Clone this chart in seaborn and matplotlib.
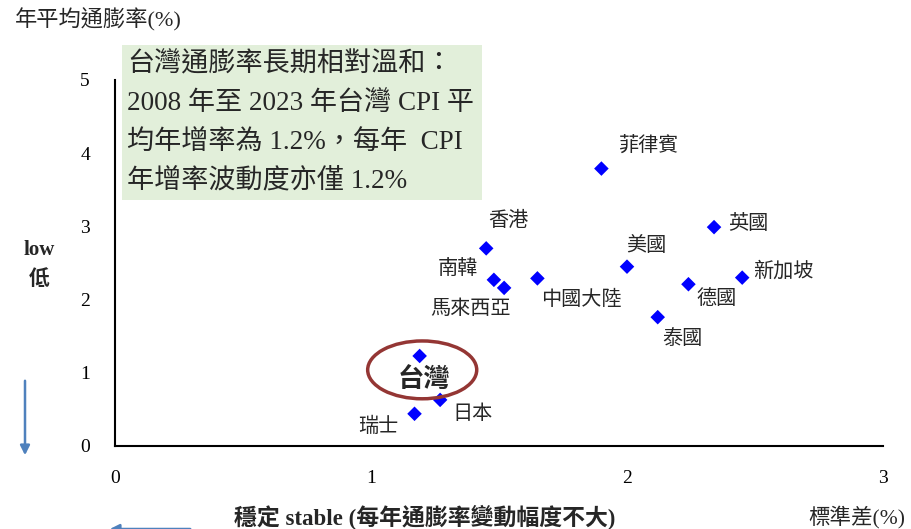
import pandas as pd
import matplotlib
matplotlib.use("Agg")
import matplotlib.pyplot as plt
import seaborn as sns
from matplotlib.patches import Ellipse, Rectangle, FancyArrowPatch

# data: inflation volatility (std, %) vs average annual inflation (%), 2008-2023
countries = ["菲律賓", "英國", "美國", "德國", "新加坡", "泰國", "香港",
             "南韓", "馬來西亞", "中國大陸", "台灣", "日本", "瑞士"]
std_dev = [1.90, 2.34, 2.00, 2.24, 2.45, 2.12, 1.45, 1.48, 1.52, 1.65, 1.19, 1.27, 1.17]
avg_infl = [3.79, 2.99, 2.45, 2.21, 2.30, 1.76, 2.70, 2.27, 2.16, 2.29, 1.23, 0.63, 0.44]
x_ticks = [0, 1, 2, 3]
y_ticks = [0, 1, 2, 3, 4, 5]

box_lines = ["台灣通膨率長期相對溫和：",
             "2008 年至 2023 年台灣 CPI 平",
             "均年增率為 1.2%，每年  CPI",
             "年增率波動度亦僅 1.2%"]

df = pd.DataFrame({"country": countries, "std": std_dev, "avg": avg_infl})

# label placement (pixel offsets from the point, alignment)
label_pos = {
    "菲律賓": (48, 22, "center"), "英國": (14, 3, "left"), "美國": (19, 20, "center"),
    "德國": (28, -15, "center"), "新加坡": (11, 6, "left"), "泰國": (25, -22, "center"),
    "香港": (22, 27, "center"), "南韓": (-36, 10, "center"), "馬來西亞": (-34, -22, "center"),
    "中國大陸": (44, -22, "center"), "日本": (32, -15, "center"), "瑞士": (-36, -14, "center"),
}

sns.set_theme(style="white")
plt.rcParams["font.family"] = ["Liberation Serif", "Noto Sans CJK TC", "DejaVu Sans"]

fig = plt.figure(figsize=(9.12, 5.29), dpi=100)
ax = fig.add_axes([115 / 912, 1 - 446 / 529, 768 / 912, 366 / 529])

sns.scatterplot(data=df, x="std", y="avg", marker="D", color="#0000FF",
                s=55, edgecolor="none", ax=ax, zorder=3)

for c, x, y in zip(countries, std_dev, avg_infl):
    if c == "台灣":
        ax.annotate(c, (x, y), xytext=(4, -24), textcoords="offset pixels",
                    ha="center", va="center", fontsize=19, fontweight="bold")
        continue
    dx, dy, ha = label_pos[c]
    ax.annotate(c, (x, y), xytext=(dx, dy), textcoords="offset pixels",
                ha=ha, va="center", fontsize=14.5)

# highlight Taiwan
ax.add_patch(Ellipse((1.20, 1.04), 0.426, 0.79, fill=False,
                     edgecolor="#943634", linewidth=2.5, zorder=4))

ax.set_xlim(0, 3)
ax.set_ylim(0, 5)
ax.set_xticks(x_ticks)
ax.set_yticks(y_ticks)
ax.tick_params(direction="in", length=6, width=1.3, colors="black", labelsize=14)
ax.tick_params(axis="x", pad=17)
ax.tick_params(axis="y", pad=18)
ax.set_xlabel("")
ax.set_ylabel("")
sns.despine(ax=ax)
for sp in ["left", "bottom"]:
    ax.spines[sp].set_color("black")
    ax.spines[sp].set_linewidth(1.5)

# green annotation box
fig.patches.append(Rectangle((122 / 912, 1 - 200 / 529), 360 / 912, 155 / 529,
                             transform=fig.transFigure, facecolor="#E2EFDA",
                             edgecolor="none", zorder=0))
for i, line in enumerate(box_lines):
    fig.text(127 / 912, 1 - (65 + i * 39) / 529, line, fontsize=19.5,
             ha="left", va="center")

# axis captions
fig.text(15 / 912, 1 - 20 / 529, "年平均通膨率(%)", fontsize=16, ha="left", va="center")
fig.text(39 / 912, 1 - 250 / 529, "low", fontsize=15, fontweight="bold", ha="center", va="center")
fig.text(39 / 912, 1 - 280 / 529, "低", fontsize=15, fontweight="bold", ha="center", va="center")
fig.text(425 / 912, 1 - 517 / 529, "穩定 stable (每年通膨率變動幅度不大)", fontsize=16.5,
         fontweight="bold", ha="center", va="center")
fig.text(905 / 912, 1 - 517 / 529, "標準差(%)", fontsize=15.5, ha="right", va="center")

# arrows
fig.patches.append(FancyArrowPatch((25 / 912, 1 - 378 / 529), (25 / 912, 1 - 458 / 529),
                                   transform=fig.transFigure, arrowstyle="-|>",
                                   mutation_scale=14, color="#4F81BD", linewidth=1.8))
fig.patches.append(FancyArrowPatch((193 / 912, 1 - 529 / 529), (107 / 912, 1 - 529 / 529),
                                   transform=fig.transFigure, arrowstyle="-|>",
                                   mutation_scale=14, color="#4F81BD", linewidth=1.8))

fig.savefig("out.png", dpi=100)
